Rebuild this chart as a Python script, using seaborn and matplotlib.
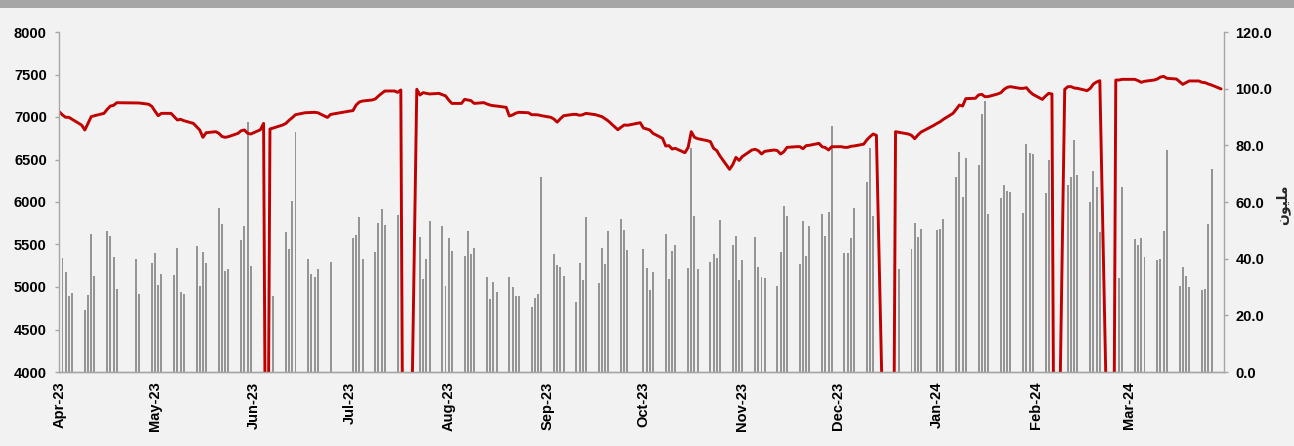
import pandas as pd
import seaborn as sns
import matplotlib.pyplot as plt
import matplotlib.dates as mdates
from matplotlib.patches import Rectangle

# daily market data, grouped by week (weeks start on Sunday 2023-04-02)
first_sunday = '2023-04-02'

# index close, per week: Sat, Sun, Mon, Tue, Wed  (None = no point, 0 = recorded as zero)
index_weeks = [
    [7062, 7024, 6996, 6996, 6973], [6905, 6847, 6925, 7004, 7015],
    [7043, 7090, 7129, 7137, 7168], [None, None, None, 7165, 7165],
    [7150, 7125, 7068, 7015, 7043], [7043, 7004, 6965, 6973, 6957],
    [6925, 6886, 6847, 6761, 6815], [6827, 6808, 6770, 6761, 6769],
    [6808, 6839, 6847, 6808, 6800], [6850, 6925, 0, 6859, 6870],
    [6906, 6925, 6962, 6992, 7027], [7050, 7052, 7055, 7055, 7050],
    [6995, 7030, None, None, None], [7070, 7075, 7141, 7176, 7188],
    [7200, 7212, 7247, 7278, 7306], [7306, 7290, 7318, 0, 0],
    [7326, 7259, 7286, 7278, 7271], [7278, 7262, 7250, 7200, 7160],
    [7160, 7208, 7200, 7192, 7160], [7169, 7153, 7140, 7133, 7129],
    [7114, 7012, 7024, 7045, 7055], [7050, 7027, 7027, 7025, 7016],
    [6996, 6975, 6940, 6980, 7015], [7031, 7031, 7020, 7027, 7043],
    [7027, 7016, 7004, 6980, 6953], [6850, 6880, 6906, 6903, 6910],
    [6933, 6870, 6860, 6847, 6808], [6749, 6659, 6663, 6624, 6631],
    [6580, 6640, 6827, 6761, 6745], [6722, 6710, 6631, 6604, 6541],
    [6384, 6440, 6525, 6490, 6535], [6612, 6620, 6604, 6565, 6596],
    [6612, 6604, 6565, 6592, 6643], [6651, 6651, 6627, 6663, 6667],
    [6690, 6650, 6640, 6612, 6650], [6651, 6643, 6643, 6655, 6659],
    [6680, 6730, 6769, 6800, 6784], [None, 0, 0, 6827, 6820],
    [6800, 6784, 6745, 6788, 6823], [6882, 6902, 6925, 6945, 6973],
    [7043, 7090, 7141, 7129, 7216], [7220, 7259, 7267, 7239, 7240],
    [7271, 7286, 7325, 7349, 7357], [7337, 7337, 7345, 7300, 7267],
    [7207, 7247, 7278, 7271, 0], [7325, 7357, 7357, 7341, 7337],
    [7310, 7337, 7388, 7412, 7427], [None, 0, 7435, 7435, 7443],
    [7443, 7443, 7427, 7408, 7420], [7435, 7447, 7470, 7478, 7455],
    [7447, 7416, 7384, 7404, 7424], [7424, 7408, 7404, 7388, 7376],
    [7330, None, None, None, None],
]

# traded volume (million), per week: Sun, Mon, Tue, Wed
volume_weeks = [
    [40.3, 35.3, 26.9, 27.8], [21.9, 27.1, 48.7, 33.8], [49.8, 48.1, 40.5, 29.3],
    [None, None, 40.0, 27.6], [38.5, 42.1, 30.7, 34.5], [34.2, 43.7, 28.3, 27.6],
    [44.4, 30.2, 42.4, 38.5], [57.9, 52.1, 35.6, 36.5], [46.6, 51.6, 88.4, 37.3],
    [None, None, None, 26.9], [49.5, 43.5, 60.2, 84.8], [39.8, 34.6, 33.5, 36.2],
    [38.8, None, None, None], [47.2, 48.5, 54.7, 39.9], [42.5, 52.6, 57.7, 51.9],
    [55.3, None, None, None], [47.8, 32.8, 39.9, 53.3], [51.4, 30.4, 47.2, 42.7],
    [41.1, 49.8, 41.6, 43.7], [33.6, 25.8, 31.8, 28.1], [33.6, 30.0, 26.8, 26.8],
    [22.8, 26.0, 27.4, 68.9], [41.6, 37.8, 37.2, 33.9], [24.8, 38.6, 32.5, 54.6],
    [31.3, 43.7, 38.1, 49.8], [54.1, 50.1, 43.1, None], [43.4, 36.8, 28.9, 35.4],
    [48.7, 32.9, 42.6, 44.9], [36.6, 79.0, 55.0, 36.5], [38.7, 41.5, 40.2, 53.7],
    [44.9, 47.9, 32.5, 39.5], [47.5, 37.2, 33.6, 33.1], [30.4, 42.4, 58.7, 55.1],
    [38.1, 53.3, 41.1, 51.4], [55.7, 47.9, 56.5, 86.9], [41.9, 41.9, 47.4, 58.0],
    [67.2, 79.0, 55.1, None], [None, None, None, 36.2], [43.5, 52.5, 47.5, 50.5],
    [None, 50.1, 50.4, 54.0], [68.8, 77.6, 61.8, 75.4], [73.1, 91.2, 95.5, 55.7],
    [61.4, 65.9, 63.9, 63.5], [56.2, 80.5, 77.2, 76.8], [63.3, 75.0, None, None],
    [66.0, 68.7, 81.9, 69.4], [60.1, 70.9, 65.4, 49.4], [None, None, 33.1, 65.4],
    [46.8, 44.8, 47.2, 40.7], [39.5, 39.9, 49.8, 78.4], [30.4, 37.2, 33.9, 29.9],
    [28.9, 29.2, 52.1, 71.5], [None, None, None, None],
]

# flatten the weekly lists into dated rows
line_rows, bar_rows = [], []
for k, (idx, vol) in enumerate(zip(index_weeks, volume_weeks)):
    sunday = pd.Timestamp(first_sunday) + pd.Timedelta(days=7 * k)
    for d, v in enumerate(idx):
        if v is not None:
            line_rows.append((sunday + pd.Timedelta(days=d - 1), v))
    for d, v in enumerate(vol):
        if v is not None:
            bar_rows.append((sunday + pd.Timedelta(days=d), v))
line_df = pd.DataFrame(line_rows, columns=['date', 'index'])
bar_df = pd.DataFrame(bar_rows, columns=['date', 'volume'])

sns.set_style('white')
plt.rcParams['font.family'] = ['Liberation Sans', 'DejaVu Sans']

bg = '#f2f2f2'
axis_grey = '#a6a6a6'
fig = plt.figure(figsize=(12.94, 4.46), dpi=100, facecolor=bg)
ax = fig.add_axes([59.3 / 1294, 1 - 372 / 446, (1224.3 - 59.3) / 1294, 340 / 446])
ax2 = ax.twinx()

# volume bars on the secondary axis
ax2.bar(bar_df['date'], bar_df['volume'], width=0.62, color='#959595', linewidth=0)

# index line on the primary axis, drawn above the bars
sns.lineplot(data=line_df, x='date', y='index', ax=ax, color='#c00000',
             linewidth=2.1, estimator=None)
ax.set_zorder(ax2.get_zorder() + 1)
ax.patch.set_visible(False)
ax2.patch.set_visible(False)

ax.set_xlim(pd.Timestamp('2023-04-01'), pd.Timestamp('2024-03-31'))
ax.set_ylim(4000, 8000)
ax.set_yticks(range(4000, 8001, 500))
ax2.set_ylim(0, 120)
ax2.set_yticks(range(0, 121, 20))
ax2.set_yticklabels([f'{t:.1f}' for t in range(0, 121, 20)])

ax.xaxis.set_major_locator(mdates.MonthLocator())
ax.xaxis.set_major_formatter(mdates.DateFormatter('%b-%y'))
ax.set_xlabel('')
ax.set_ylabel('')

for a in (ax, ax2):
    for side in ('left', 'right', 'bottom'):
        a.spines[side].set_color(axis_grey)
        a.spines[side].set_linewidth(1.0)
    a.spines['top'].set_visible(False)
ax.spines['right'].set_visible(False)
ax2.spines['left'].set_visible(False)

ax.tick_params(axis='y', direction='out', length=3, width=1, color=axis_grey,
               pad=6, labelsize=10.5, labelcolor='black')
ax2.tick_params(axis='y', direction='out', length=3, width=1, color=axis_grey,
                pad=5, labelsize=10.5, labelcolor='black')
ax.tick_params(axis='x', direction='out', length=4, width=1, color=axis_grey,
               pad=3, labelsize=10.5, labelrotation=90, labelcolor='black')
for lab in ax.get_xticklabels() + ax.get_yticklabels() + ax2.get_yticklabels():
    lab.set_fontweight('bold')

# secondary axis title (Arabic, pre-shaped glyphs in visual order)
fig.text(1283 / 1294, 1 - 205 / 446, '\ufee5\ufeee\ufef4\ufee0\ufee3', rotation=90,
         ha='center', va='center', fontsize=10, fontweight='bold',
         family=['DejaVu Sans'])

# grey header band at the top
fig.patches.append(Rectangle((0, 1 - 8 / 446), 1, 8 / 446, transform=fig.transFigure,
                             facecolor='#a6a6a6', edgecolor='none'))

fig.savefig('out.png', dpi=100, facecolor=bg)
